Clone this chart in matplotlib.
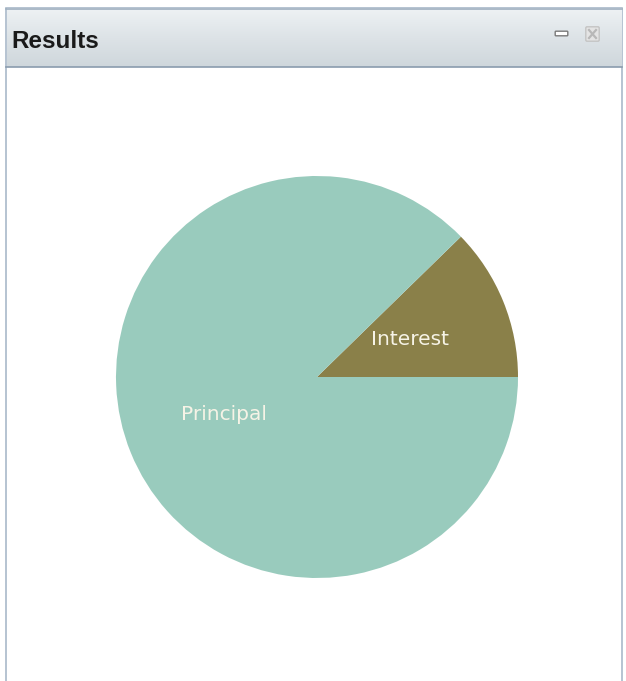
import matplotlib
matplotlib.use("Agg")
import matplotlib.pyplot as plt
import matplotlib.patches as mpatches
import numpy as np
from matplotlib.colors import LinearSegmentedColormap

labels = ["Interest", "Principal"]
values = [12.3, 87.7]
colors = ["#8a8049", "#99cbbd"]
title = "Results"

W, H = 626, 681
fig = plt.figure(figsize=(W / 100, H / 100), dpi=100)
fig.patch.set_facecolor("white")

# background/panel frame axes in pixel coords
bg = fig.add_axes([0, 0, 1, 1])
bg.axis("off")

# panel body
bg.add_patch(mpatches.Rectangle((6, 8), 616, 680, facecolor="white",
                                edgecolor="#a9b9c9", lw=1.2))
# title bar gradient
grad = np.linspace(0, 1, 100).reshape(-1, 1)
cmap = LinearSegmentedColormap.from_list("tb", ["#eef2f4", "#dde3e7", "#cfd7dc"])
bg.imshow(grad, extent=(6.5, 621.5, 67, 8.5), cmap=cmap, aspect="auto", zorder=1)
bg.plot([6, 622], [8.5, 8.5], color="#9fb0c0", lw=1.2, zorder=2)
bg.plot([6, 622], [67, 67], color="#8a9cae", lw=1.2, zorder=2)
bg.set_xlim(0, W)
bg.set_ylim(H, 0)

bg.text(11, 41, title, fontsize=17.5, fontweight="bold", family="Liberation Sans",
        color="#1a1a1a", va="center", ha="left", zorder=3)

# minimize icon
bg.add_patch(mpatches.FancyBboxPatch((556, 32), 11, 3, boxstyle="round,pad=0.8",
                                     facecolor="white", edgecolor="#7a7a7a", lw=1, zorder=3))
# close icon
bg.add_patch(mpatches.FancyBboxPatch((587, 28), 11, 12, boxstyle="round,pad=1.2",
                                     facecolor="#e4e4e4", edgecolor="#c4c4c4", lw=1, zorder=3))
bg.plot([589, 596], [30, 38], color="#b8b8b8", lw=1.6, zorder=4)
bg.plot([589, 596], [38, 30], color="#b8b8b8", lw=1.6, zorder=4)

# pie
cx, cy, r = 317, 377, 201
ax = fig.add_axes([(cx - r) / W, 1 - (cy + r) / H, 2 * r / W, 2 * r / H])
wedges, texts = ax.pie(values, labels=labels, colors=colors, startangle=0,
                       counterclock=True, labeldistance=0.5,
                       wedgeprops=dict(linewidth=0),
                       textprops=dict(color="#f6f3e6", fontsize=14.5,
                                      family="DejaVu Sans"))
for t in texts:
    t.set_ha("center")
    t.set_va("center")
ax.set_xlim(-1, 1)
ax.set_ylim(-1, 1)
ax.set_aspect("equal")
ax.axis("off")

fig.savefig("out.png", dpi=100, facecolor="white")
